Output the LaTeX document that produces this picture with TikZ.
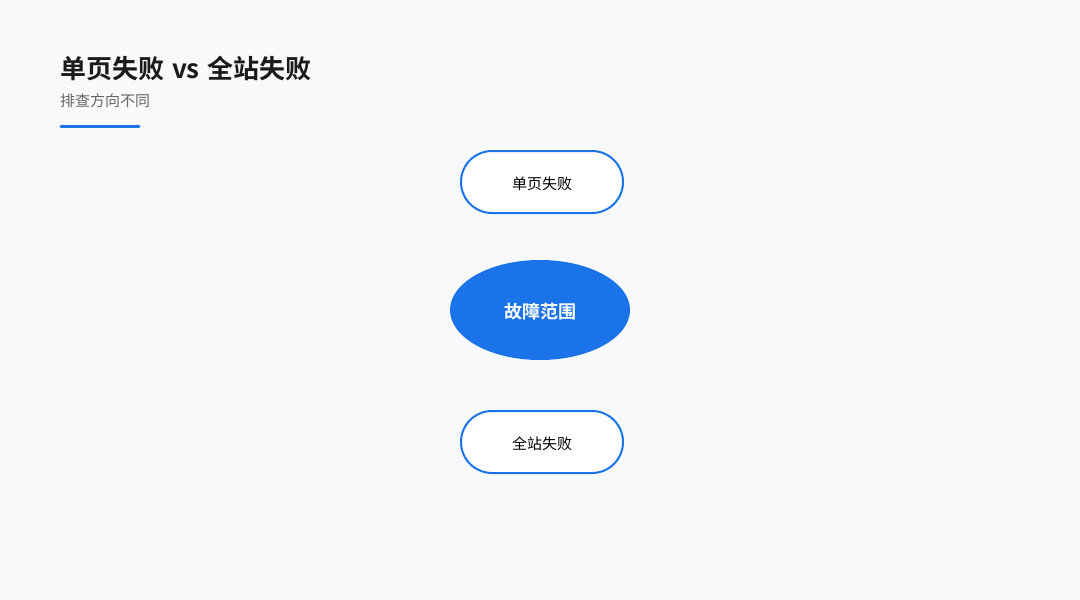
\documentclass[tikz,border=0pt]{standalone}
\usepackage{fontspec}
\setmainfont{Noto Sans CJK SC}[BoldFont=Noto Sans CJK SC Bold]
\usetikzlibrary{shapes.geometric}
\definecolor{bg}{HTML}{F7F9FB}
\definecolor{accent}{HTML}{1A73E8}
\definecolor{titlec}{HTML}{1A1A1A}
\definecolor{subc}{HTML}{666666}
\tikzset{
  pill/.style={draw=accent, line width=2pt, fill=white, rounded corners=31pt,
    minimum width=162pt, minimum height=62pt, inner sep=0pt,
    font=\fontsize{15pt}{17pt}\selectfont, text=black},
  core/.style={ellipse, fill=accent, minimum width=180pt, minimum height=100pt,
    inner sep=0pt, text=white, font=\bfseries\fontsize{18pt}{21pt}\selectfont},
  lbl/.style={yshift=-1.5pt},
}
\begin{document}
\begin{tikzpicture}[x=1pt,y=-1pt]
\fill[bg] (0,0) rectangle (1080,600);
\useasboundingbox (0,0) rectangle (1080,600);
\node[anchor=base west, inner sep=0pt, text=titlec, font=\bfseries\fontsize{26pt}{30pt}\selectfont] (title) at (60,78.5) {单页失败\hspace{0.3em}vs\hspace{0.3em}全站失败};
\node[anchor=base west, inner sep=0pt, text=subc, font=\fontsize{15pt}{17pt}\selectfont] (sub) at (60,106.5) {排查方向不同};
\coordinate (l1) at (61,126);
\coordinate (l2) at (139,126);
\draw[accent, line width=3pt, line cap=round] (l1) -- (l2);
\node[pill] (a) at (542,182) {};
\node[lbl, font=\fontsize{15pt}{17pt}\selectfont] (at) at (a) {单页失败};
\node[core] (c) at (540,310) {};
\node[lbl, text=white, font=\bfseries\fontsize{18pt}{21pt}\selectfont] (ct) at (c) {故障范围};
\node[pill] (b) at (542,442) {};
\node[lbl, font=\fontsize{15pt}{17pt}\selectfont] (bt) at (b) {全站失败};
\end{tikzpicture}
\end{document}
